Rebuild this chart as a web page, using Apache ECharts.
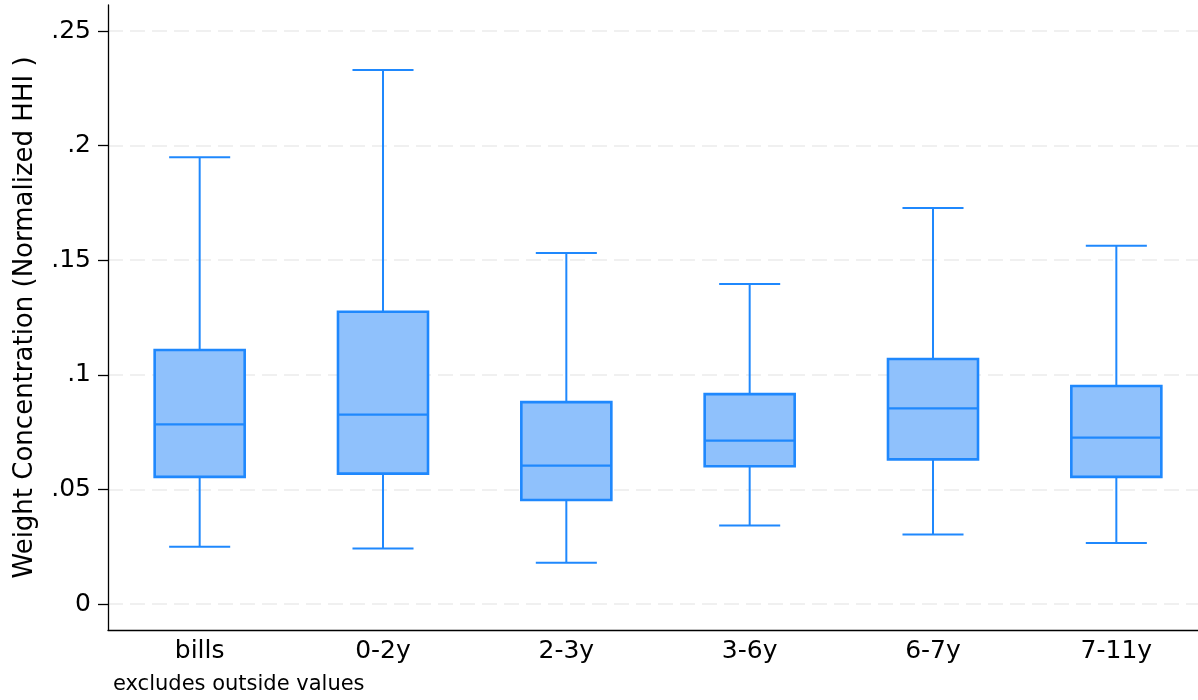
<!DOCTYPE html>
<html>
<head>
<meta charset="utf-8">
<script src="https://cdn.jsdelivr.net/npm/echarts@6/dist/echarts.min.js"></script>
<style>
html,body{margin:0;padding:0;background:#fff;}
#c{width:1198px;height:700px;}
</style>
</head>
<body>
<div id="c"></div>
<script>
var categories = ['bills', '0-2y', '2-3y', '3-6y', '6-7y', '7-11y'];
var lowerWhisker = [0.0250, 0.0243, 0.0180, 0.0343, 0.0304, 0.0266];
var q1Values     = [0.0555, 0.0569, 0.0454, 0.0601, 0.0631, 0.0555];
var medianValues = [0.0784, 0.0826, 0.0604, 0.0713, 0.0854, 0.0726];
var q3Values     = [0.1108, 0.1275, 0.0881, 0.0916, 0.1069, 0.0951];
var upperWhisker = [0.1949, 0.2330, 0.1531, 0.1396, 0.1728, 0.1563];
var yTickValues = [0, 0.05, 0.1, 0.15, 0.2, 0.25];
var yTickLabels = ['0', '.05', '.1', '.15', '.2', '.25'];

var FONT = 'DejaVu Sans';
var STROKE = '#1f88fd';
var FILL = '#8fc1fc';

var boxData = categories.map(function (c, i) {
  return [i, lowerWhisker[i], q1Values[i], medianValues[i], q3Values[i], upperWhisker[i]];
});

function renderBox(params, api) {
  var i = api.value(0);
  var band = api.size([1, 0])[0];
  var bw = band * 0.491;
  var cw = band * 0.333;
  var pLow = api.coord([i, api.value(1)]);
  var pQ1 = api.coord([i, api.value(2)]);
  var pMed = api.coord([i, api.value(3)]);
  var pQ3 = api.coord([i, api.value(4)]);
  var pHigh = api.coord([i, api.value(5)]);
  var cx = pQ1[0];
  var lineStyle = {stroke: STROKE, lineWidth: 2};
  return {
    type: 'group',
    children: [
      {type: 'line', shape: {x1: cx, y1: pQ3[1], x2: cx, y2: pHigh[1]}, style: lineStyle},
      {type: 'line', shape: {x1: cx, y1: pQ1[1], x2: cx, y2: pLow[1]}, style: lineStyle},
      {type: 'line', shape: {x1: cx - cw / 2, y1: pHigh[1], x2: cx + cw / 2, y2: pHigh[1]}, style: lineStyle},
      {type: 'line', shape: {x1: cx - cw / 2, y1: pLow[1], x2: cx + cw / 2, y2: pLow[1]}, style: lineStyle},
      {type: 'rect', shape: {x: cx - bw / 2, y: pQ3[1], width: bw, height: pQ1[1] - pQ3[1]},
        style: {fill: FILL, stroke: STROKE, lineWidth: 2.6}},
      {type: 'line', shape: {x1: cx - bw / 2, y1: pMed[1], x2: cx + bw / 2, y2: pMed[1]},
        style: {stroke: STROKE, lineWidth: 2.2}}
    ]
  };
}

var chart = echarts.init(document.getElementById('c'), null, {renderer: 'canvas'});
chart.setOption({
  backgroundColor: '#ffffff',
  animation: false,
  grid: [
    {left: 108, width: 1100, top: 5, bottom: 70, containLabel: false, outerBoundsMode: 'none'},
    {left: 108, right: 0, top: 31, bottom: 96, containLabel: false, outerBoundsMode: 'none'}
  ],
  xAxis: [
    {
      type: 'category', gridIndex: 0, data: categories,
      axisLine: {show: true, onZero: false, lineStyle: {color: '#000', width: 1.3}},
      axisTick: {show: false},
      axisLabel: {color: '#000', fontFamily: FONT, fontSize: 25, margin: 9},
      splitLine: {show: false}
    },
    {
      type: 'category', gridIndex: 1, data: categories, show: false
    }
  ],
  yAxis: [
    {
      type: 'value', gridIndex: 0, min: -0.0113, max: 0.2613,
      axisLine: {show: true, lineStyle: {color: '#000', width: 1.3}},
      axisTick: {show: false},
      axisLabel: {show: false},
      splitLine: {show: false},
      name: 'Weight Concentration (Normalized HHI )',
      nameLocation: 'middle',
      nameGap: 70,
      nameTextStyle: {color: '#000', fontFamily: FONT, fontSize: 26}
    },
    {
      type: 'value', gridIndex: 1, min: 0, max: 0.25, interval: 0.05,
      axisLine: {show: false},
      axisTick: {show: true, length: 10, lineStyle: {color: '#000', width: 1.3}},
      axisLabel: {
        color: '#000', fontFamily: FONT, fontSize: 25, margin: 17,
        formatter: function (v) {
          for (var k = 0; k < yTickValues.length; k++) {
            if (Math.abs(v - yTickValues[k]) < 1e-9) return yTickLabels[k];
          }
          return '';
        }
      },
      splitLine: {show: true, lineStyle: {color: '#ebebeb', width: 1.5, type: [15, 7]}}
    }
  ],
  graphic: [
    {type: 'text', left: 113, top: 674,
      style: {text: 'excludes outside values', fill: '#000', font: '21px "DejaVu Sans"'}}
  ],
  series: [
    {
      type: 'custom', xAxisIndex: 0, yAxisIndex: 0,
      data: boxData,
      encode: {x: 0, y: [1, 2, 3, 4, 5]},
      renderItem: renderBox,
      z: 3
    }
  ]
});
</script>
</body>
</html>
